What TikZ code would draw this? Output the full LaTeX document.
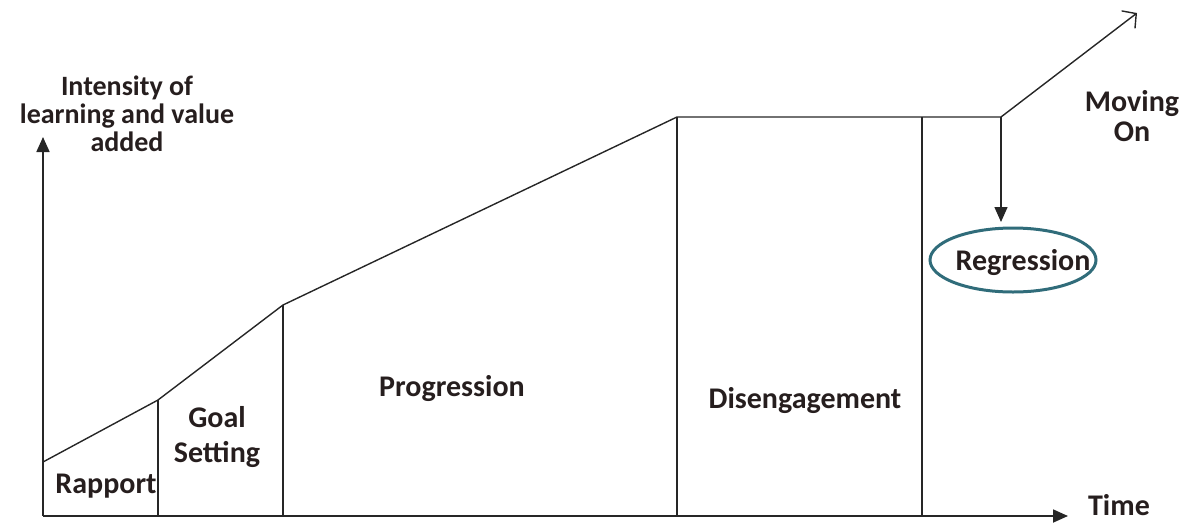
\documentclass[tikz,border=0pt]{standalone}
\usepackage{fontspec}
\setmainfont{Carlito}
\usepackage{xcolor}
\usetikzlibrary{arrows.meta,positioning,shapes.geometric}
\definecolor{labelink}{RGB}{38,30,30}
\definecolor{ringteal}{RGB}{48,108,122}

\begin{document}
\begin{tikzpicture}[x=1pt,y=-1pt,
  every node/.style={font=\bfseries\fontsize{30}{30}\selectfont,text=labelink,align=center,inner sep=0pt},
  phase/.style={line width=1.4pt,black!85},
  axis/.style={-{Triangle[length=15pt,width=13pt]},line width=1.8pt,black!85},
  barb/.style={-{Straight Barb[length=10pt,width=22pt]},line width=1.4pt,black!85},
  ring/.style={ellipse,draw=ringteal,line width=3pt,minimum width=166pt,minimum height=64pt}
]
\useasboundingbox (0,0) rectangle (1187,523);
\coordinate (o) at (43,516);
\coordinate (ytip) at (43,137);
\coordinate (xtip) at (1068,516);
\coordinate (r0) at (43,462);
\coordinate (r1) at (158,400);
\coordinate (g1) at (283,305);
\coordinate (p1) at (677,117);
\coordinate (d1) at (922,117);
\coordinate (fork) at (1001,117);
\coordinate (mtip) at (1137,13);
\coordinate (rtip) at (1001,222);

\node[anchor=base,font=\bfseries\fontsize{28}{28}\selectfont] (intensity) at (127,151) {Intensity of\\learning and value\\added};
\node[anchor=base] (rapport) at (106,493) {Rapport};
\node[anchor=base,font=\bfseries\fontsize{30}{35}\selectfont] (goal) at (217,462) {Goal\\Setting};
\node[anchor=base] (progression) at (452,396) {Progression};
\node[anchor=base] (disengagement) at (805,408) {Disengagement};
\node[ring] (ring) at (1013,260) {};
\node[anchor=base] (regression) at (1023,270) {Regression};
\node[anchor=base] (moving) at (1132,141) {Moving\\On};
\node[anchor=base] (time) at (1119,515) {Time};

\draw[axis] (o) -- (ytip);
\draw[axis] (o) -- (xtip);
\draw[phase] (r0) -- (r1) -- (g1) -- (p1) -- (fork);
\foreach \c in {r1,g1,p1,d1}
  \draw[phase] (\c) -- (\c |- o);
\draw[barb] (fork) -- (mtip);
\draw[axis,line width=1.4pt] (fork) -- (rtip);
\end{tikzpicture}
\end{document}
